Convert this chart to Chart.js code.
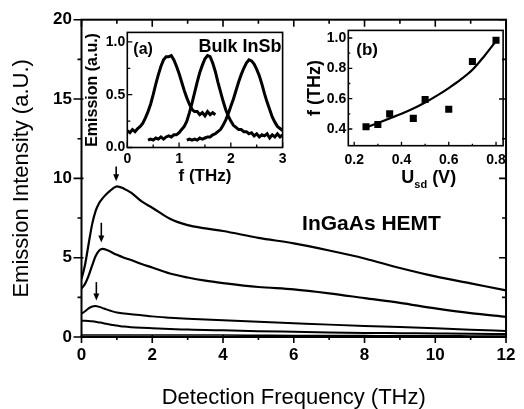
<!DOCTYPE html>
<html>
<head>
<meta charset="utf-8">
<script src="https://cdn.jsdelivr.net/npm/chart.js@4.4.1/dist/chart.umd.min.js"></script>
<style>
    body { margin: 0; background: #fff; }
    #wrap { position: relative; width: 524px; height: 409px; }
    canvas { position: absolute; }
</style>
</head>
<body>
<div id="wrap">
    <canvas id="mainChart" width="524" height="409" style="left:0;top:0"></canvas>
    <canvas id="insetA" width="206" height="172" style="left:84px;top:22px"></canvas>
    <canvas id="insetB" width="212" height="174" style="left:300px;top:20px"></canvas>
</div>
<script>
// main panel: emission spectra of the HEMT
const freq = [0, 0.1, 0.2, 0.3, 0.4, 0.5, 0.6, 0.7, 0.8, 0.9, 1.0, 1.2, 1.4, 1.7, 2, 2.5, 3, 3.5, 4, 5, 6, 7, 8, 9, 10, 11, 12];
const curve1 = [3.65, 4.55, 5.85, 7.1, 7.95, 8.45, 8.75, 9.0, 9.2, 9.38, 9.5, 9.35, 9.1, 8.55, 8.15, 7.45, 7.05, 6.85, 6.68, 6.25, 5.9, 5.45, 4.95, 4.35, 3.82, 3.38, 2.94];
const curve2 = [3.05, 3.35, 3.85, 4.5, 5.1, 5.45, 5.55, 5.5, 5.4, 5.28, 5.18, 5.0, 4.85, 4.6, 4.38, 4.0, 3.75, 3.55, 3.4, 3.15, 3.0, 2.75, 2.45, 2.15, 1.8, 1.5, 1.27];
const curve3 = [1.48, 1.62, 1.8, 1.92, 1.95, 1.9, 1.82, 1.74, 1.67, 1.6, 1.55, 1.48, 1.43, 1.37, 1.3, 1.22, 1.15, 1.1, 1.05, 0.96, 0.87, 0.78, 0.7, 0.63, 0.55, 0.46, 0.38];
const curve4 = [1.02, 1.02, 1.01, 0.99, 0.96, 0.92, 0.88, 0.83, 0.79, 0.75, 0.72, 0.66, 0.62, 0.58, 0.55, 0.5, 0.47, 0.44, 0.42, 0.37, 0.33, 0.29, 0.26, 0.24, 0.22, 0.2, 0.19];
const curve5 = [0.13, 0.13, 0.13, 0.13, 0.13, 0.13, 0.13, 0.13, 0.13, 0.13, 0.13, 0.13, 0.13, 0.13, 0.13, 0.12, 0.12, 0.12, 0.12, 0.11, 0.1, 0.1, 0.09, 0.08, 0.08, 0.07, 0.06];
const mainXTicks = [0, 2, 4, 6, 8, 10, 12];
const mainXMinor = [1, 3, 5, 7, 9, 11];
const mainYTicks = [0, 5, 10, 15, 20];
const mainYMinor = [2.5, 7.5, 12.5, 17.5];
// arrows marking the peaks: [frequency, from, to]
const peakArrows = [[0.98, 10.75, 9.82], [0.56, 7.2, 5.96], [0.42, 3.46, 2.3]];

// inset (a): bulk InSb spectra
const aFreq1 = [0, 0.05, 0.1, 0.15, 0.2, 0.25, 0.3, 0.35, 0.4, 0.45, 0.5, 0.55, 0.6, 0.65, 0.7, 0.75, 0.8, 0.85, 0.9, 0.95, 1.0, 1.05, 1.1, 1.15, 1.2, 1.25, 1.3, 1.35, 1.4, 1.45, 1.5, 1.55, 1.6, 1.65, 1.7];
const aPeak1 = [0.16, 0.14, 0.17, 0.15, 0.18, 0.2, 0.23, 0.28, 0.34, 0.41, 0.5, 0.6, 0.69, 0.77, 0.83, 0.86, 0.86, 0.87, 0.83, 0.77, 0.7, 0.62, 0.54, 0.47, 0.41, 0.36, 0.34, 0.34, 0.31, 0.33, 0.3, 0.34, 0.31, 0.33, 0.31];
const aFreq2 = [0.4, 0.45, 0.5, 0.55, 0.6, 0.65, 0.7, 0.75, 0.8, 0.85, 0.9, 0.95, 1.0, 1.05, 1.1, 1.15, 1.2, 1.25, 1.3, 1.35, 1.4, 1.45, 1.5, 1.55, 1.6, 1.65, 1.7, 1.75, 1.8, 1.85, 1.9, 1.95, 2.0, 2.05, 2.1, 2.15, 2.2, 2.25, 2.3, 2.35, 2.4, 2.45, 2.5, 2.55, 2.6, 2.65, 2.7, 2.75, 2.8, 2.85, 2.9, 2.95, 3.0];
const aPeak2 = [0.07, 0.08, 0.07, 0.09, 0.08, 0.1, 0.08, 0.1, 0.11, 0.1, 0.12, 0.12, 0.14, 0.17, 0.2, 0.25, 0.33, 0.42, 0.52, 0.62, 0.71, 0.78, 0.84, 0.87, 0.86, 0.8, 0.72, 0.62, 0.53, 0.44, 0.36, 0.3, 0.25, 0.21, 0.19, 0.17, 0.17, 0.15, 0.15, 0.13, 0.14, 0.11, 0.13, 0.1, 0.12, 0.11, 0.13, 0.09, 0.12, 0.1, 0.13, 0.1, 0.12];
const aFreq3 = [1.15, 1.2, 1.25, 1.3, 1.35, 1.4, 1.45, 1.5, 1.55, 1.6, 1.65, 1.7, 1.75, 1.8, 1.85, 1.9, 1.95, 2.0, 2.05, 2.1, 2.15, 2.2, 2.25, 2.3, 2.35, 2.4, 2.45, 2.5, 2.55, 2.6, 2.65, 2.7, 2.75, 2.8, 2.85, 2.9, 2.95, 3.0];
const aPeak3 = [0.07, 0.08, 0.07, 0.08, 0.07, 0.09, 0.08, 0.09, 0.1, 0.1, 0.12, 0.13, 0.15, 0.17, 0.21, 0.26, 0.32, 0.39, 0.46, 0.54, 0.62, 0.69, 0.75, 0.8, 0.83, 0.82, 0.79, 0.74, 0.68, 0.6, 0.51, 0.43, 0.36, 0.29, 0.24, 0.2, 0.18, 0.16];

// inset (b): peak frequency vs source-drain voltage
const usd = [0.25, 0.3, 0.35, 0.45, 0.5, 0.6, 0.7, 0.8];
const fPeak = [0.415, 0.43, 0.5, 0.47, 0.595, 0.53, 0.845, 0.985];
const fitU = [0.25, 0.3, 0.35, 0.4, 0.45, 0.5, 0.55, 0.6, 0.65, 0.7, 0.75, 0.8];
const fitF = [0.41, 0.44, 0.47, 0.5, 0.535, 0.575, 0.62, 0.67, 0.725, 0.79, 0.88, 0.98];

const FONT = "Arial, 'Liberation Sans', sans-serif";
Chart.defaults.font.family = FONT;
Chart.defaults.color = "#000";

const pairs = (xs, ys) => xs.map((x, i) => ({x: x, y: ys[i]}));

// frame + tick marks on all sides, drawn from the scales
const frameTicks = {
    id: "frameTicks",
    afterDraw(chart, args, opts) {
        const {ctx, chartArea: a, scales} = chart;
        ctx.save();
        ctx.strokeStyle = "#000";
        ctx.lineWidth = opts.frameWidth;
        ctx.strokeRect(a.left, a.top, a.right - a.left, a.bottom - a.top);
        ctx.lineWidth = opts.tickWidth;
        ctx.beginPath();
        for (const s of opts.sides) {
            const scale = scales[s.axis];
            for (const [list, inLen, outLen] of [[s.major, s.majorIn, s.majorOut], [s.minor, s.minorIn, s.minorOut]]) {
                for (const v of list) {
                    const p = scale.getPixelForValue(v);
                    if (s.edge === "bottom") { ctx.moveTo(p, a.bottom - inLen); ctx.lineTo(p, a.bottom + outLen); }
                    if (s.edge === "top") { ctx.moveTo(p, a.top + inLen); ctx.lineTo(p, a.top - outLen); }
                    if (s.edge === "left") { ctx.moveTo(a.left + inLen, p); ctx.lineTo(a.left - outLen, p); }
                    if (s.edge === "right") { ctx.moveTo(a.right - inLen, p); ctx.lineTo(a.right + outLen, p); }
                }
            }
        }
        ctx.stroke();
        ctx.restore();
    }
};

// free texts and arrows
const annotations = {
    id: "annotations",
    afterDatasetsDraw(chart, args, opts) {
        const {ctx, chartArea: a, scales: {x, y}} = chart;
        ctx.save();
        ctx.fillStyle = "#000";
        ctx.strokeStyle = "#000";
        for (const t of opts.texts || []) {
            ctx.font = t.font;
            ctx.textAlign = t.align;
            ctx.textBaseline = "middle";
            const px = t.fromRight ? a.right - t.dx : a.left + t.dx;
            ctx.fillText(t.text, px, a.top + t.dy);
        }
        for (const [f, from, to] of opts.arrows || []) {
            const px = x.getPixelForValue(f);
            const y0 = y.getPixelForValue(from);
            const y1 = y.getPixelForValue(to);
            ctx.lineWidth = 1.6;
            ctx.beginPath();
            ctx.moveTo(px, y0);
            ctx.lineTo(px, y1 - 5);
            ctx.stroke();
            ctx.beginPath();
            ctx.moveTo(px - 3, y1 - 7);
            ctx.lineTo(px + 3, y1 - 7);
            ctx.lineTo(px, y1);
            ctx.closePath();
            ctx.fill();
        }
        ctx.restore();
    }
};

const lineSet = (data, width) => ({
    data: data,
    borderColor: "#000",
    borderWidth: width,
    pointRadius: 0,
    fill: false,
    cubicInterpolationMode: "monotone"
});

new Chart(document.getElementById("mainChart"), {
    type: "line",
    data: {
        datasets: [
            lineSet(pairs(freq, curve1), 2.2),
            lineSet(pairs(freq, curve2), 2.2),
            lineSet(pairs(freq, curve3), 2),
            lineSet(pairs(freq, curve4), 2),
            lineSet(pairs(freq, curve5), 1.5)
        ]
    },
    options: {
        responsive: false,
        animation: false,
        layout: { padding: { left: 10, top: 17, right: 11.5, bottom: 0 } },
        plugins: {
            legend: { display: false },
            tooltip: { enabled: false },
            frameTicks: {
                frameWidth: 2, tickWidth: 1.6,
                sides: [
                    { axis: "x", edge: "bottom", major: mainXTicks, minor: mainXMinor, majorIn: 2, majorOut: 6, minorIn: 0, minorOut: 3 },
                    { axis: "x", edge: "top", major: mainXTicks, minor: mainXMinor, majorIn: 7, majorOut: 0, minorIn: 4, minorOut: 0 },
                    { axis: "y", edge: "left", major: mainYTicks, minor: mainYMinor, majorIn: 2, majorOut: 8, minorIn: 0, minorOut: 4 },
                    { axis: "y", edge: "right", major: mainYTicks, minor: mainYMinor, majorIn: 7, majorOut: 0, minorIn: 4, minorOut: 0 }
                ]
            },
            annotations: {
                texts: [{ text: "InGaAs HEMT", font: "bold 21px " + FONT, align: "center", dx: 290, dy: 205 }],
                arrows: peakArrows
            }
        },
        scales: {
            x: {
                type: "linear", min: 0, max: 12,
                afterFit: (s) => { s.height = 72; },
                afterBuildTicks: (s) => { s.ticks = mainXTicks.map(v => ({value: v})); },
                grid: { display: false, drawTicks: false },
                border: { display: false },
                ticks: { padding: 8.5, font: { size: 17, weight: "bold" } },
                title: { display: true, text: "Detection Frequency (THz)", padding: 0, font: { size: 22, lineHeight: 1 } }
            },
            y: {
                type: "linear", min: 0, max: 20,
                afterFit: (s) => { s.width = 71.5; },
                afterBuildTicks: (s) => { s.ticks = mainYTicks.map(v => ({value: v})); },
                grid: { display: false, drawTicks: false },
                border: { display: false },
                ticks: { padding: 9.5, font: { size: 17, weight: "bold" } },
                title: { display: true, text: "Emission Intensity (a.U.)", padding: 0, font: { size: 22, lineHeight: 1.1 } }
            }
        }
    },
    plugins: [frameTicks, annotations]
});

new Chart(document.getElementById("insetA"), {
    type: "line",
    data: {
        datasets: [
            lineSet(pairs(aFreq1, aPeak1), 3),
            lineSet(pairs(aFreq2, aPeak2), 3),
            lineSet(pairs(aFreq3, aPeak3), 3)
        ].map(d => Object.assign(d, { cubicInterpolationMode: "default", tension: 0 }))
    },
    options: {
        responsive: false,
        animation: false,
        layout: { padding: { left: 0, top: 5.3, right: 6.7, bottom: 9.5 } },
        plugins: {
            legend: { display: false },
            tooltip: { enabled: false },
            frameTicks: {
                frameWidth: 1.6, tickWidth: 1.3,
                sides: [
                    { axis: "x", edge: "bottom", major: [0, 1, 2, 3], minor: [0.5, 1.5, 2.5], majorIn: 5, majorOut: 0, minorIn: 3, minorOut: 0 },
                    { axis: "y", edge: "left", major: [0, 0.5, 1.0], minor: [0.25, 0.75], majorIn: 5, majorOut: 0, minorIn: 3, minorOut: 0 }
                ]
            },
            annotations: {
                texts: [
                    { text: "(a)", font: "bold 16px " + FONT, align: "left", dx: 6, dy: 17 },
                    { text: "Bulk InSb", font: "bold 18px " + FONT, align: "right", fromRight: true, dx: 1, dy: 14.5 }
                ]
            }
        },
        scales: {
            x: {
                type: "linear", min: 0, max: 3,
                afterFit: (s) => { s.height = 37; },
                afterBuildTicks: (s) => { s.ticks = [0, 1, 2, 3].map(v => ({value: v})); },
                grid: { display: false, drawTicks: false },
                border: { display: false },
                ticks: { padding: 3.5, font: { size: 14, weight: "bold" } },
                title: { display: true, text: "f (THz)", padding: 0, font: { size: 17, weight: "bold", lineHeight: 1 } }
            },
            y: {
                type: "linear", min: 0, max: 1.09,
                afterFit: (s) => { s.width = 43.3; },
                afterBuildTicks: (s) => { s.ticks = [0, 0.5, 1.0].map(v => ({value: v})); },
                grid: { display: false, drawTicks: false },
                border: { display: false },
                ticks: { padding: 2, font: { size: 14, weight: "bold" }, callback: (v) => v.toFixed(1) },
                title: { display: true, text: "Emission (a.u.)", padding: { top: 1 }, font: { size: 16, weight: "bold", lineHeight: 1 } }
            }
        }
    },
    plugins: [frameTicks, annotations]
});

// x title of inset (b) has a subscript, so it is drawn by hand
const usdTitle = {
    id: "usdTitle",
    afterDraw(chart) {
        const {ctx, chartArea: a} = chart;
        ctx.save();
        ctx.fillStyle = "#000";
        ctx.textBaseline = "alphabetic";
        ctx.textAlign = "left";
        const big = "bold 18px " + FONT;
        const small = "bold 11px " + FONT;
        ctx.font = big;
        const wU = ctx.measureText("U").width;
        const wV = ctx.measureText(" (V)").width;
        ctx.font = small;
        const wS = ctx.measureText("sd").width;
        let px = (a.left + a.right) / 2 + 3 - (wU + wS + wV) / 2;
        const base = 163;
        ctx.font = big;
        ctx.fillText("U", px, base);
        px += wU;
        ctx.font = small;
        ctx.fillText("sd", px, base + 5);
        px += wS;
        ctx.font = big;
        ctx.fillText(" (V)", px, base);
        ctx.restore();
    }
};

new Chart(document.getElementById("insetB"), {
    type: "scatter",
    data: {
        datasets: [
            {
                type: "scatter",
                data: pairs(usd, fPeak),
                pointStyle: "rect",
                pointRadius: 5,
                backgroundColor: "#000",
                borderColor: "#000",
                borderWidth: 0
            },
            Object.assign(lineSet(pairs(fitU, fitF), 2.2), { type: "line" })
        ]
    },
    options: {
        responsive: false,
        animation: false,
        layout: { padding: { left: 6, top: 7.3, right: 5.3, bottom: 10 } },
        plugins: {
            legend: { display: false },
            tooltip: { enabled: false },
            frameTicks: {
                frameWidth: 1.6, tickWidth: 1.3,
                sides: [
                    { axis: "x", edge: "bottom", major: [0.2, 0.4, 0.6, 0.8], minor: [0.3, 0.5, 0.7], majorIn: 4, majorOut: 0, minorIn: 2, minorOut: 0 },
                    { axis: "y", edge: "left", major: [0.4, 0.6, 0.8, 1.0], minor: [0.5, 0.7, 0.9], majorIn: 4, majorOut: 0, minorIn: 2, minorOut: 0 }
                ]
            },
            annotations: {
                texts: [{ text: "(b)", font: "bold 17px " + FONT, align: "left", dx: 8, dy: 20 }]
            }
        },
        scales: {
            x: {
                type: "linear", min: 0.175, max: 0.83,
                afterFit: (s) => { s.height = 38.3; },
                afterBuildTicks: (s) => { s.ticks = [0.2, 0.4, 0.6, 0.8].map(v => ({value: v})); },
                grid: { display: false, drawTicks: false },
                border: { display: false },
                ticks: { padding: 6, font: { size: 14, weight: "bold" }, callback: (v) => v.toFixed(1) }
            },
            y: {
                type: "linear", min: 0.29, max: 1.05,
                afterFit: (s) => { s.width = 42.3; },
                afterBuildTicks: (s) => { s.ticks = [0.4, 0.6, 0.8, 1.0].map(v => ({value: v})); },
                grid: { display: false, drawTicks: false },
                border: { display: false },
                ticks: { padding: 2, font: { size: 14, weight: "bold" }, callback: (v) => v.toFixed(1) },
                title: { display: true, text: "f (THz)", padding: 0, font: { size: 18, weight: "bold", lineHeight: 1 } }
            }
        }
    },
    plugins: [frameTicks, annotations, usdTitle]
});
</script>
</body>
</html>
